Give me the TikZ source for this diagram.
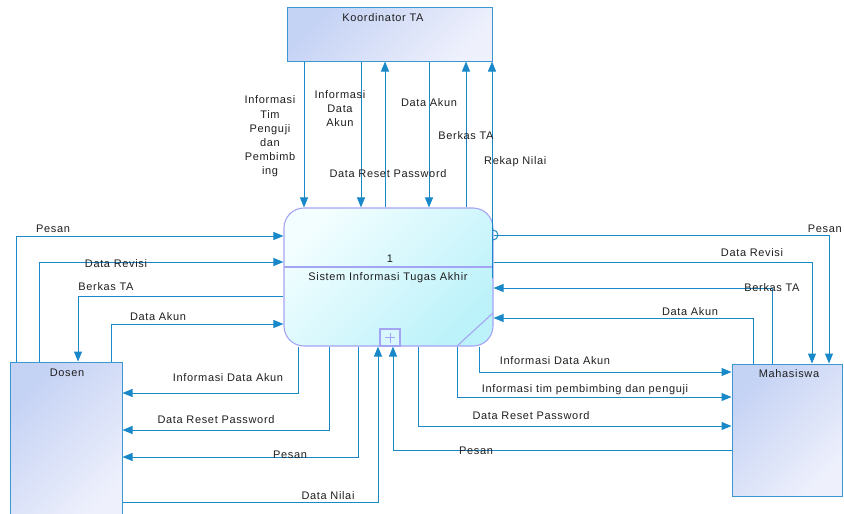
\documentclass[tikz,border=0pt]{standalone}
\usepackage{fontspec}
\setmainfont{Liberation Sans}[LetterSpace=6]
\usetikzlibrary{arrows.meta,calc}
\definecolor{linec}{HTML}{1888C8}
\definecolor{eborder}{HTML}{3C96D2}
\definecolor{efillA}{HTML}{C4D2F4}
\definecolor{efillB}{HTML}{EEF0FC}
\definecolor{sborder}{HTML}{A4A4F4}
\definecolor{sfillA}{HTML}{F2FEFF}
\definecolor{sfillB}{HTML}{BCF2FA}
\definecolor{txt}{HTML}{1E1E1E}
\begin{document}
\begin{tikzpicture}[x=1pt,y=-1pt,
  ebox/.style={draw=eborder, line width=1pt, inner sep=0pt, top color=efillA, bottom color=efillB, shading angle=45},
  sbox/.style={draw=sborder, line width=1.1pt, inner sep=0pt, rounded corners=20pt, top color=sfillA, bottom color=sfillB, shading angle=45},
  flow/.style={draw=linec, line width=1pt, -{Triangle[length=10pt,width=8pt]}},
  plain/.style={draw=linec, line width=1pt},
  lbl/.style={text=txt, inner sep=0pt, font=\fontsize{11}{14.2}\selectfont, align=center}]
\useasboundingbox (0,0) rectangle (844,514);
\clip (0,0) rectangle (844,514);
% boxes
\node[ebox, minimum width=205pt, minimum height=54pt] (koord) at (389.5,34) {};
\node[ebox, minimum width=112pt, minimum height=160pt] (dosen) at (66,442) {};
\node[ebox, minimum width=110pt, minimum height=132pt] (mhs) at (787,430) {};
\node[sbox, minimum width=209pt, minimum height=138pt] (sys) at (388.5,277) {};
\coordinate (dvL) at (284,267); \coordinate (dvR) at (493,267);
\draw[draw=sborder, line width=1.1pt] (dvL) -- (dvR);
\coordinate (cutA) at (457,346); \coordinate (cutB) at (493,313);
\draw[draw=sborder, line width=1.1pt] (cutA) -- (cutB);
\node[draw=sborder, line width=1.1pt, fill=sfillB!60!white, minimum width=20pt, minimum height=17pt, inner sep=0pt] (plus) at (390,337.5) {};
\draw[draw=sborder, line width=1pt] ($(plus.center)+(-5,0)$) -- ($(plus.center)+(5,0)$) ($(plus.center)+(0,-5)$) -- ($(plus.center)+(0,5)$);
% box texts
\node[lbl] (tk) at (383,18) {Koordinator TA};
\node[lbl] (td) at (67,373) {Dosen};
\node[lbl] (tm) at (789,374) {Mahasiswa};
\node[lbl] (t1) at (390,259) {1};
\node[lbl] (ts) at (388,278) {Sistem Informasi Tugas Akhir};
% Koordinator connectors
\coordinate (k1) at (304,0); \coordinate (k2) at (361,0); \coordinate (k3) at (385,0);
\coordinate (k4) at (429,0); \coordinate (k5) at (466,0); \coordinate (rk) at (492,278);
\draw[flow] (koord.south -| k1) -- (sys.north -| k1);
\draw[flow] (koord.south -| k2) -- (sys.north -| k2);
\draw[flow] (sys.north -| k3) -- (koord.south -| k3);
\draw[flow] (koord.south -| k4) -- (sys.north -| k4);
\draw[flow] (sys.north -| k5) -- (koord.south -| k5);
\draw[flow] (rk) -- (rk |- koord.south);
\node[lbl] (lk1) at (270,136.5) {Informasi\\Tim\\Penguji\\dan\\Pembimb\\ing};
\node[lbl] (lk2) at (340,108.5) {Informasi\\Data\\Akun};
\node[lbl] (lk4) at (429,103) {Data Akun};
\node[lbl] (lk5) at (466,136) {Berkas TA};
\node[lbl, anchor=west] (lk6) at (484,162) {Rekap Nilai};
\node[lbl] (lk3) at (388,174) {Data Reset Password};
% Dosen left connectors
\coordinate (l1) at (16,236); \coordinate (l2) at (39,262);
\coordinate (l3) at (78,296); \coordinate (l4) at (111,324);
\draw[flow] (l1 |- dosen.north) -- (l1) -- (l1 -| sys.west);
\draw[flow] (l2 |- dosen.north) -- (l2) -- (l2 -| sys.west);
\draw[flow] (l3 -| sys.west) -- (l3) -- (l3 |- dosen.north);
\draw[flow] (l4 |- dosen.north) -- (l4) -- (l4 -| sys.west);
\node[lbl] (ll1) at (53,229) {Pesan};
\node[lbl] (ll2) at (116,264) {Data Revisi};
\node[lbl] (ll3) at (106,287) {Berkas TA};
\node[lbl] (ll4) at (158,317) {Data Akun};
% bottom-left connectors
\coordinate (b1) at (298,393); \coordinate (b2) at (329,430);
\coordinate (b3) at (358,457); \coordinate (b4) at (378,502);
\draw[flow] (b1 |- sys.south) -- (b1) -- (b1 -| dosen.east);
\draw[flow] (b2 |- sys.south) -- (b2) -- (b2 -| dosen.east);
\draw[flow] (b3 |- sys.south) -- (b3) -- (b3 -| dosen.east);
\draw[flow] (b4 -| dosen.east) -- (b4) -- (b4 |- sys.south);
\node[lbl] (lb1) at (228,378) {Informasi Data Akun};
\node[lbl] (lb2) at (216,420) {Data Reset Password};
\node[lbl] (lb3) at (290,455) {Pesan};
\node[lbl] (lb4) at (328,496) {Data Nilai};
% bottom-right connectors
\coordinate (r1) at (479,372); \coordinate (r2) at (457,397);
\coordinate (r3) at (418,426); \coordinate (r4) at (393,450);
\draw[flow] (r1 |- sys.south) -- (r1) -- (r1 -| mhs.west);
\draw[flow] (r2 |- sys.south) -- (r2) -- (r2 -| mhs.west);
\draw[flow] (r3 |- sys.south) -- (r3) -- (r3 -| mhs.west);
\draw[flow] (r4 -| mhs.west) -- (r4) -- (r4 |- plus.south);
\node[lbl] (lr1) at (555,361) {Informasi Data Akun};
\node[lbl] (lr2) at (585,390) {Informasi tim pembimbing dan penguji};
\node[lbl] (lr3) at (531,416) {Data Reset Password};
\node[lbl] (lr4) at (476,451) {Pesan};
% right connectors
\coordinate (p1) at (829,235); \coordinate (p2) at (812,262);
\coordinate (p3) at (772,288); \coordinate (p4) at (753,318);
\coordinate (hop) at (493,230);
\draw[plain] (hop) arc[start angle=-90, end angle=90, radius=5];
\draw[flow] (p1 -| sys.east) -- (p1) -- (p1 |- mhs.north);
\draw[flow] (p2 -| sys.east) -- (p2) -- (p2 |- mhs.north);
\draw[flow] (p3 |- mhs.north) -- (p3) -- (p3 -| sys.east);
\draw[flow] (p4 |- mhs.north) -- (p4) -- (p4 -| sys.east);
\node[lbl, anchor=east] (lp1) at (842,229) {Pesan};
\node[lbl] (lp2) at (752,253) {Data Revisi};
\node[lbl] (lp3) at (772,288) {Berkas TA};
\node[lbl] (lp4) at (690,312) {Data Akun};
\end{tikzpicture}
\end{document}
